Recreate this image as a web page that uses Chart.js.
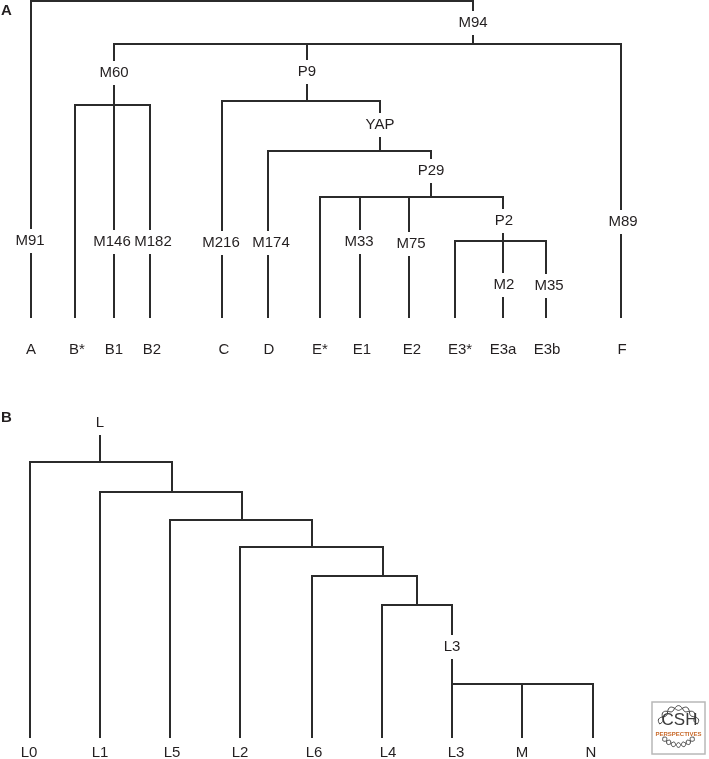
<!DOCTYPE html>
<html lang="en">
<head>
  <meta charset="UTF-8">
  <title>Haplogroup trees</title>
  <script src="https://cdn.jsdelivr.net/npm/chart.js"></script>
  <style>
    body { margin: 0; background: #fff; }
    #wrap { position: relative; width: 709px; height: 759px; }
  </style>
</head>
<body>
<div id="wrap"><canvas id="tree" width="709" height="759"></canvas></div>
<script>
  // --- Panel A ---
  const leafNamesA  = ['A','B*','B1','B2','C','D','E*','E1','E2','E3*','E3a','E3b','F'];
  const leafXA      = [31,75,114,150,222,268,320,360,409,455,503,546,621];
  const leafLabelXA = [31,77,114,152,224,269,320,362,412,460,503,547,622];
  const leafParentA = ['root','M60','M60','M60','P9','YAP','P29','P29','P29','P2','P2','P2','M94'];
  const tipYA = 317, leafLabelYA = 350;

  const nodeNamesA  = ['root','M94','M60','P9','YAP','P29','P2'];
  const nodeXA      = [252,473,114,307,380,431,503];
  const nodeBarYA   = [1,44,105,101,151,197,241];
  const nodeParentA = [null,'root','M94','M94','P9','YAP','P29'];

  const branchLabelsA = ['M94','M91','M60','M146','M182','P9','M216','YAP','M174','P29','M33','M75','P2','M2','M35','M89'];
  const branchXA      = [473,30,114,112,153,307,221,380,271,431,359,411,504,504,549,623];
  const branchYA      = [23,241,73,242,242,72,243,125,243,171,242,244,221,285,286,222];

  // --- Panel B ---
  const leafNamesB  = ['L0','L1','L5','L2','L6','L4','L3','M','N'];
  const leafXB      = [30,100,170,240,312,382,452,522,593];
  const leafLabelXB = [29,100,172,240,314,388,456,522,591];
  const leafParentB = ['L','n2','n3','n4','n5','n6','n7','n7','n7'];
  const tipYB = 737, leafLabelYB = 753;

  const nodeNamesB  = ['L','n2','n3','n4','n5','n6','n7'];
  const nodeXB      = [100,172,242,312,383,417,452];
  const nodeBarYB   = [462,492,520,547,576,605,684];
  const nodeParentB = [null,'L','n2','n3','n4','n5','n6'];
  const rootStemTopB = 436;

  const branchLabelsB = ['L','L3'];
  const branchXB      = [100,452];
  const branchYB      = [423,647];

  const panelLetters = ['A','B'];
  const panelLetterY = [11,418];

  const lineColor = '#2b2b2b';
  const textColor = '#231f20';

  // build line segments of one tree from its parent links
  function treeSegments(leafNames, leafX, leafParent, tipY, nodeNames, nodeX, nodeBarY, nodeParent) {
    const segs = [];
    const kids = {};
    nodeNames.forEach(n => kids[n] = []);
    leafNames.forEach((l, i) => {
      const p = leafParent[i];
      kids[p].push(leafX[i]);
      segs.push([[leafX[i], tipY], [leafX[i], nodeBarY[nodeNames.indexOf(p)]]]);
    });
    nodeNames.forEach((n, i) => {
      const p = nodeParent[i];
      if (p === null) return;
      kids[p].push(nodeX[i]);
      segs.push([[nodeX[i], nodeBarY[i]], [nodeX[i], nodeBarY[nodeNames.indexOf(p)]]]);
    });
    nodeNames.forEach((n, i) => {
      const xs = kids[n];
      segs.push([[Math.min(...xs), nodeBarY[i]], [Math.max(...xs), nodeBarY[i]]]);
    });
    return segs;
  }

  const segs = treeSegments(leafNamesA, leafXA, leafParentA, tipYA, nodeNamesA, nodeXA, nodeBarYA, nodeParentA)
    .concat(treeSegments(leafNamesB, leafXB, leafParentB, tipYB, nodeNamesB, nodeXB, nodeBarYB, nodeParentB));
  // stem above root L
  segs.push([[nodeXB[0], nodeBarYB[0]], [nodeXB[0], rootStemTopB]]);

  const datasets = segs.map(s => ({
    data: s.map(p => ({ x: p[0], y: p[1] })),
    showLine: true,
    borderColor: lineColor,
    borderWidth: 2,
    borderCapStyle: 'square',
    pointRadius: 0,
    fill: false
  }));

  // little double helix for the badge
  function helix(ctx, cx, cy, r, a0, a1) {
    for (const s of [1, -1]) {
      ctx.beginPath();
      for (let t = 0; t <= 1.0001; t += 0.02) {
        const a = a0 + (a1 - a0) * t;
        const rr = r + s * 2.4 * Math.sin(t * Math.PI * 7);
        const px = cx + Math.cos(a) * rr, py = cy + Math.sin(a) * rr;
        t === 0 ? ctx.moveTo(px, py) : ctx.lineTo(px, py);
      }
      ctx.stroke();
    }
  }

  // text: branch labels (with white gap), leaf names, panel letters, logo
  const textPlugin = {
    id: 'treeText',
    afterDatasetsDraw(chart) {
      const { ctx, scales: { x, y } } = chart;
      ctx.save();
      ctx.font = '15px "Liberation Sans", Arial, sans-serif';
      ctx.textAlign = 'center';
      ctx.textBaseline = 'middle';

      const gaps = (names, xs, ys) => names.forEach((t, i) => {
        const px = x.getPixelForValue(xs[i]), py = y.getPixelForValue(ys[i]);
        const w = ctx.measureText(t).width;
        ctx.fillStyle = '#fff';
        ctx.fillRect(px - w / 2 - 1, py - 12, w + 2, 24);
      });
      const words = (names, xs, ys) => names.forEach((t, i) => {
        ctx.fillText(t, x.getPixelForValue(xs[i]), y.getPixelForValue(ys[i]));
      });
      gaps(branchLabelsA, branchXA, branchYA);
      gaps(branchLabelsB, branchXB, branchYB);

      ctx.fillStyle = textColor;
      words(branchLabelsA, branchXA, branchYA);
      words(branchLabelsB, branchXB, branchYB);
      words(leafNamesA, leafLabelXA, leafNamesA.map(() => leafLabelYA));
      words(leafNamesB, leafLabelXB, leafNamesB.map(() => leafLabelYB));

      ctx.font = 'bold 15px "Liberation Sans", Arial, sans-serif';
      ctx.textAlign = 'left';
      panelLetters.forEach((t, i) => ctx.fillText(t, 1, y.getPixelForValue(panelLetterY[i])));

      // CSH Perspectives badge
      const bx = 652, by = 702, bw = 53, bh = 52;
      ctx.strokeStyle = '#b8b8b8';
      ctx.lineWidth = 1.5;
      ctx.strokeRect(bx, by, bw, bh);
      ctx.strokeStyle = '#444';
      ctx.lineWidth = 1;
      helix(ctx, bx + bw / 2, by + 25, 19, Math.PI * 1.05, Math.PI * 1.95);
      helix(ctx, bx + bw / 2, by + 24, 19, Math.PI * 0.2, Math.PI * 0.8);
      ctx.textAlign = 'center';
      ctx.fillStyle = '#3a3a3a';
      ctx.font = '17px "Liberation Sans", Arial, sans-serif';
      ctx.fillText('CSH', bx + bw / 2 + 1, by + 18);
      ctx.fillStyle = '#c8692a';
      ctx.font = 'bold 6px "Liberation Sans", Arial, sans-serif';
      ctx.fillText('PERSPECTIVES', bx + bw / 2, by + 32);
      ctx.restore();
    }
  };

  new Chart(document.getElementById('tree'), {
    type: 'scatter',
    data: { datasets },
    options: {
      responsive: false,
      animation: false,
      layout: { padding: 0 },
      plugins: { legend: { display: false }, tooltip: { enabled: false } },
      scales: {
        x: { type: 'linear', min: 0, max: 709, display: false },
        y: { type: 'linear', min: 0, max: 759, reverse: true, display: false }
      }
    },
    plugins: [textPlugin]
  });
</script>
</body>
</html>
